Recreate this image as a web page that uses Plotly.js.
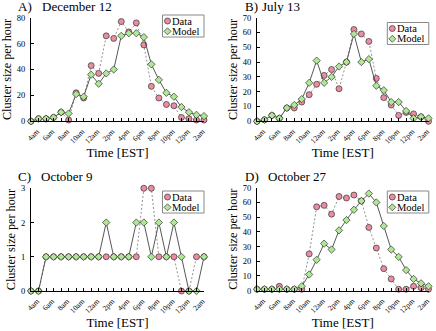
<!DOCTYPE html>
<html><head><meta charset="utf-8">
<script src="https://cdn.plot.ly/plotly-3.0.1.min.js"></script>
<style>html,body{margin:0;padding:0;background:#fff}#chart{width:436px;height:331px}</style>
</head><body><div id="chart"></div>
<script>
// Hours of day, 4am (4) through 3am next day (27)
const hours = [4,5,6,7,8,9,10,11,12,13,14,15,16,17,18,19,20,21,22,23,24,25,26,27];
const tickHours = [4,6,8,10,12,14,16,18,20,22,24,26];
const tickLabels = ['4am','6am','8am','10am','12am','2pm','4pm','6pm','8pm','10pm','12pm','2am'];

// A) December 12
const decData  = [0,2,2,3,7,1,22,18,43,37,66,64,77,69,76,59,27,18,13,12,3,2,1,1];
const decModel = [0,2,2,3,7,6,21,19,36,29,37,40,66,68,68,65,44,32,22,19,11,7,5,4];
// B) July 13
const julData  = [0,1,4,2,9,9,13,18,25,31,35,22,40,62,59,54,29,16,11,4,6,5,3,0];
const julModel = [0,1,4,2,9,11,15,26,41,26,30,37,40,59,40,42,24,21,13,13,7,2,3,2];
// C) October 9
const oct9Data  = [0,0,1,1,1,1,1,1,1,1,1,1,1,1,1,3,3,1,1,1,0,0,1,1];
const oct9Model = [0,0,1,1,1,1,1,1,1,1,2,1,1,1,2,2,1,2,1,2,1,0,0,1];
// D) October 27
const oct27Data  = [1,1,1,3,1,1,1,25,57,58,52,64,63,65,61,43,29,15,8,1,1,3,2,1];
const oct27Model = [1,1,1,1,1,1,3,11,21,32,28,41,48,55,61,66,60,44,28,23,14,8,5,3];

const panelLetters = ['A)','B)','C)','D)'];
const panelTitles = ['December 12','July 13','October 9','October 27'];
const yMax = [80,70,3,70];
const yStep = [20,10,1,10];
const seriesNames = ['Data','Model'];

const W = 436, H = 331;
const px = x => x / W;
const py = y => 1 - y / H;
const FONT = 'Liberation Serif, Times New Roman, serif';
const PINK = '#ea8da0', GREEN = '#aee894', EDGE = '#333333';

const dataSets = [[decData,decModel],[julData,julModel],[oct9Data,oct9Model],[oct27Data,oct27Model]];

// pixel geometry of each panel: [left, right, top, bottom]
const geom = [[31,204,17.7,121.3],[257,428.5,17.7,121.3],[31,204,188.3,291],[257,428.5,187.7,290.7]];
const titlePos = [[17,40.7,6.3],[244,261.3,6.3],[16.5,40,176],[243.5,267.3,176]];
const legPos = [[162.5,15],[387.3,22.5],[162.5,191],[387.3,191]];

const tickText = hours.map(h => { const i = tickHours.indexOf(h); return i >= 0 ? tickLabels[i] : ''; });

const traces = [];
const layout = {
  width: W, height: H, margin: {l:0,r:0,t:0,b:0},
  paper_bgcolor: '#fff', plot_bgcolor: '#fff', showlegend: false,
  font: {family: FONT, color: '#000'},
  annotations: [], shapes: []
};

dataSets.forEach((ds, i) => {
  const sfx = i === 0 ? '' : String(i+1);
  const xa = 'x' + sfx, ya = 'y' + sfx;
  traces.push({
    x: hours, y: ds[0], xaxis: xa, yaxis: ya, name: seriesNames[0], mode: 'lines+markers',
    line: {color: '#777', width: 0.8, dash: '2px,2px'},
    marker: {symbol: 'circle', size: 6, color: PINK, line: {color: EDGE, width: 0.7}},
    cliponaxis: false
  });
  traces.push({
    x: hours, y: ds[1], xaxis: xa, yaxis: ya, name: seriesNames[1], mode: 'lines+markers',
    line: {color: '#444', width: 0.9},
    marker: {symbol: 'diamond', size: 5.6, color: GREEN, line: {color: EDGE, width: 0.7}},
    cliponaxis: false
  });
  const g = geom[i];
  layout['xaxis' + sfx] = {
    domain: [px(g[0]), px(g[1])], range: [4, 27], anchor: ya,
    tickmode: 'array', tickvals: hours, ticktext: tickText, tickangle: -45,
    ticks: 'inside', ticklen: 3, tickcolor: '#000', tickwidth: 1,
    showline: true, linecolor: '#000', linewidth: 1, showgrid: false, zeroline: false,
    tickfont: {family: FONT, size: 7.5, color: '#000'},
    ticklabelshift: 6, ticklabelstandoff: 2,
    title: {text: 'Time [EST]', font: {family: FONT, size: 13, color: '#000'}, standoff: 3}
  };
  layout['yaxis' + sfx] = {
    domain: [py(g[3]), py(g[2])], range: [0, yMax[i]], anchor: xa, dtick: yStep[i],
    ticks: 'inside', ticklen: 3, tickcolor: '#000', tickwidth: 1,
    showline: true, linecolor: '#000', linewidth: 1, showgrid: false, zeroline: false,
    tickfont: {family: FONT, size: 8.5, color: '#000'}, ticklabelstandoff: 3,
    title: {text: 'Cluster size per hour', font: {family: FONT, size: 12.2, color: '#000'}, standoff: 2}
  };
  const t = titlePos[i];
  layout.annotations.push({xref:'paper',yref:'paper',x:px(t[0]),y:py(t[2]),xanchor:'left',yanchor:'middle',
    text: panelLetters[i], showarrow:false, borderpad:0, font:{family:FONT,size:13,color:'#000'}});
  layout.annotations.push({xref:'paper',yref:'paper',x:px(t[1]),y:py(t[2]),xanchor:'left',yanchor:'middle',
    text: panelTitles[i], showarrow:false, borderpad:0, font:{family:FONT,size:13,color:'#000'}});
  // legend
  const L = legPos[i];
  layout.shapes.push({type:'rect',xref:'paper',yref:'paper',x0:px(L[0]),x1:px(L[0]+41.5),y0:py(L[1]+22),y1:py(L[1]),
    line:{color:'#888',width:1},fillcolor:'#fff'});
  layout.shapes.push({type:'circle',xref:'paper',yref:'paper',xsizemode:'pixel',ysizemode:'pixel',
    xanchor:px(L[0]+5),yanchor:py(L[1]+6),x0:-3,x1:3,y0:-3,y1:3,fillcolor:PINK,line:{color:EDGE,width:0.7}});
  layout.shapes.push({type:'path',xref:'paper',yref:'paper',xsizemode:'pixel',ysizemode:'pixel',
    xanchor:px(L[0]+5),yanchor:py(L[1]+16.3),path:'M -3.5,0 L 0,3.5 L 3.5,0 L 0,-3.5 Z',fillcolor:GREEN,line:{color:EDGE,width:0.7}});
  layout.annotations.push({xref:'paper',yref:'paper',x:px(L[0]+8.5),y:py(L[1]+6),xanchor:'left',yanchor:'middle',
    text: seriesNames[0], showarrow:false, borderpad:0, font:{family:FONT,size:10.5,color:'#000'}});
  layout.annotations.push({xref:'paper',yref:'paper',x:px(L[0]+8.5),y:py(L[1]+16.3),xanchor:'left',yanchor:'middle',
    text: seriesNames[1], showarrow:false, borderpad:0, font:{family:FONT,size:10.5,color:'#000'}});
});

Plotly.newPlot('chart', traces, layout, {staticPlot: true, displayModeBar: false});
</script></body></html>
